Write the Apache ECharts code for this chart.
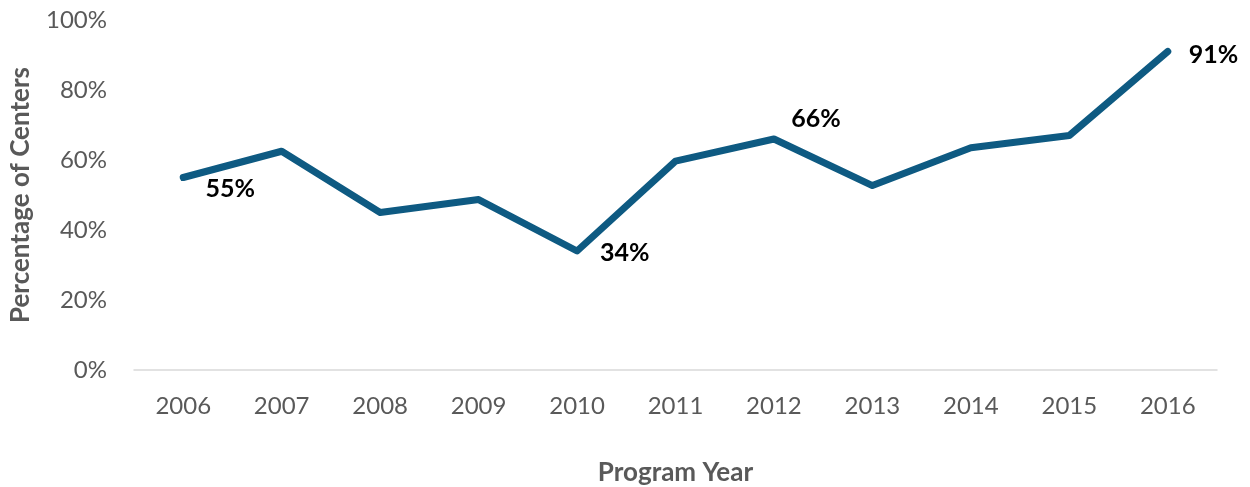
<!DOCTYPE html>
<html>
<head>
<meta charset="utf-8">
<style>
  html, body { margin: 0; padding: 0; background: #ffffff; }
  #chart { width: 1250px; height: 487px; }
</style>
<script src="https://cdn.jsdelivr.net/npm/echarts@6/dist/echarts.min.js"></script>
</head>
<body>
<div id="chart"></div>
<script>
// Program years and the share of centers for each year (percent)
const years = ['2006', '2007', '2008', '2009', '2010', '2011', '2012', '2013', '2014', '2015', '2016'];
const percentCenters = [55, 62.5, 45, 48.7, 34, 59.7, 66, 52.7, 63.5, 67, 91];
const yTicks = [0, 20, 40, 60, 80, 100];

// Years whose value is printed next to the line, with where the text sits
const callouts = {
  '2006': { position: 'bottom', offset: [47, -6] },
  '2010': { position: 'right', offset: [18, 2] },
  '2012': { position: 'top', offset: [42, -3] },
  '2016': { position: 'right', offset: [16, 3] }
};

const seriesData = percentCenters.map((v, i) => {
  const c = callouts[years[i]];
  if (!c) return { value: v };
  return {
    value: v,
    label: {
      show: true,
      position: c.position,
      offset: c.offset,
      formatter: p => Math.round(p.value) + '%'
    }
  };
});

const chart = echarts.init(document.getElementById('chart'), null, { renderer: 'canvas' });
const font = 'Lato, "Open Sans", sans-serif';

chart.setOption({
  animation: false,
  backgroundColor: '#ffffff',
  grid: { left: 134, right: 33, top: 20, bottom: 117, containLabel: false, outerBoundsMode: 'none' },
  xAxis: {
    type: 'category',
    data: years,
    boundaryGap: true,
    axisLine: { show: true, lineStyle: { color: '#d9d9d9', width: 1.5 } },
    axisTick: { show: false },
    axisLabel: { color: '#595959', fontSize: 24, fontFamily: font, margin: 24 },
    name: 'Program Year',
    nameLocation: 'middle',
    nameGap: 90,
    nameTextStyle: { color: '#595959', fontSize: 26, fontWeight: 'bold', fontFamily: font }
  },
  yAxis: {
    type: 'value',
    min: yTicks[0],
    max: yTicks[yTicks.length - 1],
    interval: yTicks[1] - yTicks[0],
    axisLine: { show: false },
    axisTick: { show: false },
    splitLine: { show: false },
    axisLabel: { color: '#595959', fontSize: 24, fontFamily: font, margin: 27, formatter: v => v + '%' },
    name: 'Percentage of Centers',
    nameLocation: 'middle',
    nameGap: 100,
    nameRotate: 90,
    nameTextStyle: { color: '#595959', fontSize: 26, fontWeight: 'bold', fontFamily: font }
  },
  series: [{
    type: 'line',
    data: seriesData,
    showSymbol: true,
    symbol: 'circle',
    symbolSize: 0,
    lineStyle: { color: '#0e5a82', width: 7, cap: 'round', join: 'round' },
    itemStyle: { color: '#0e5a82' },
    label: {
      color: '#000000',
      fontSize: 25,
      fontWeight: 'bold',
      fontFamily: font
    }
  }]
});
</script>
</body>
</html>
